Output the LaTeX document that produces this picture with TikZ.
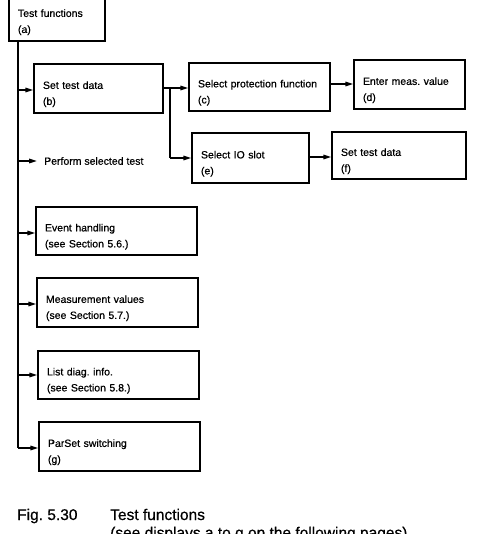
\documentclass[tikz,border=0pt]{standalone}
\usepackage{fontspec}
\setmainfont{Liberation Sans}[FakeBold=0.6]
\usetikzlibrary{arrows.meta}
\frenchspacing

\tikzset{
  box/.style={draw, line width=1.4pt, rectangle, inner xsep=9pt, inner ysep=0pt,
              align=left, font=\fontsize{10.5}{16}\selectfont},
  arr/.style={line width=1.5pt, -{Triangle[length=8pt,width=4.5pt]}},
  trunk/.style={line width=1.6pt},
  plain/.style={inner sep=0pt, font=\fontsize{10.5}{16}\selectfont},
  captext/.style={inner sep=0pt, anchor=base west, font=\fontsize{15.5}{18}\selectfont}
}
% opening strut lowers the two text lines inside each box
\newcommand{\fl}{\rule{0pt}{19pt}}

\begin{document}
\begin{tikzpicture}[x=1pt, y=-1pt]
  \useasboundingbox (0,0) rectangle (478,534);
  \clip (0,0) rectangle (478,534);

  % boxes: centre, width w, height h
  \node[box, text width=78pt,  minimum height=49pt] (a)  at (57,16.5)   {\fl Test functions\\(a)};
  \node[box, text width=111pt, minimum height=49pt] (b)  at (98.5,88.5) {\fl Set test data\\(b)};
  \node[box, text width=123pt, minimum height=48pt] (c)  at (259.5,87)  {\fl Select protection function\\(c)};
  \node[box, text width=93pt,  minimum height=49pt] (d)  at (409.5,84.5){\fl Enter meas. value\\(d)};
  \node[box, text width=99pt,  minimum height=50pt] (e)  at (250.5,158) {\fl Select IO slot\\(e)};
  \node[box, text width=116pt, minimum height=47pt] (f)  at (399,155.5) {\fl Set test data\\(f)};
  \node[box, text width=143pt, minimum height=48pt] (ev) at (116.5,231) {\fl Event handling\\(see Section 5.6.)};
  \node[box, text width=143pt, minimum height=49pt] (mv) at (117.5,302.5){\fl Measurement values\\(see Section 5.7.)};
  \node[box, text width=143pt, minimum height=48pt] (ld) at (118.5,375) {\fl List diag. info.\\(see Section 5.8.)};
  \node[box, text width=143pt, minimum height=49pt] (g)  at (119.5,446.5){\fl ParSet switching\\(g)};

  \node[plain, anchor=west] (p) at (44,161) {Perform selected test};

  % trunk from box (a) down the left side
  \coordinate (t0) at (18,41);
  \coordinate (tb) at (18,90);
  \coordinate (tp) at (18,161);
  \coordinate (tev) at (18,233);
  \coordinate (tmv) at (18,304);
  \coordinate (tld) at (18,375);
  \coordinate (tg) at (18,448);
  \draw[trunk] (t0) -- (tg);

  \draw[arr] (tb)  -- (tb -| b.west);
  \draw[arr] (tp)  -- ([xshift=-7pt]p.west);
  \draw[arr] (tev) -- (tev -| ev.west);
  \draw[arr] (tmv) -- (tmv -| mv.west);
  \draw[arr] (tld) -- (tld -| ld.west);
  \draw[arr] (tg)  -- (tg -| g.west);

  % branch out of (b)
  \coordinate (bc) at (170,88);
  \coordinate (be) at (170,158);
  \draw[arr] (bc -| b.east) -- (bc -| c.west);
  \draw[trunk] (bc) -- (be);
  \draw[arr] (be) -- (be -| e.west);

  \coordinate (cd) at (342,84);
  \draw[arr] (cd -| c.east) -- (cd -| d.west);
  \coordinate (ef) at (320,157);
  \draw[arr] (ef -| e.east) -- (ef -| f.west);

  % caption
  \node[captext] (fig) at (17,520) {Fig. 5.30};
  \node[captext] (title) at (110,520) {Test functions};
  \node[captext] (note) at (110,538) {(see displays a to g on the following pages)};
\end{tikzpicture}
\end{document}
